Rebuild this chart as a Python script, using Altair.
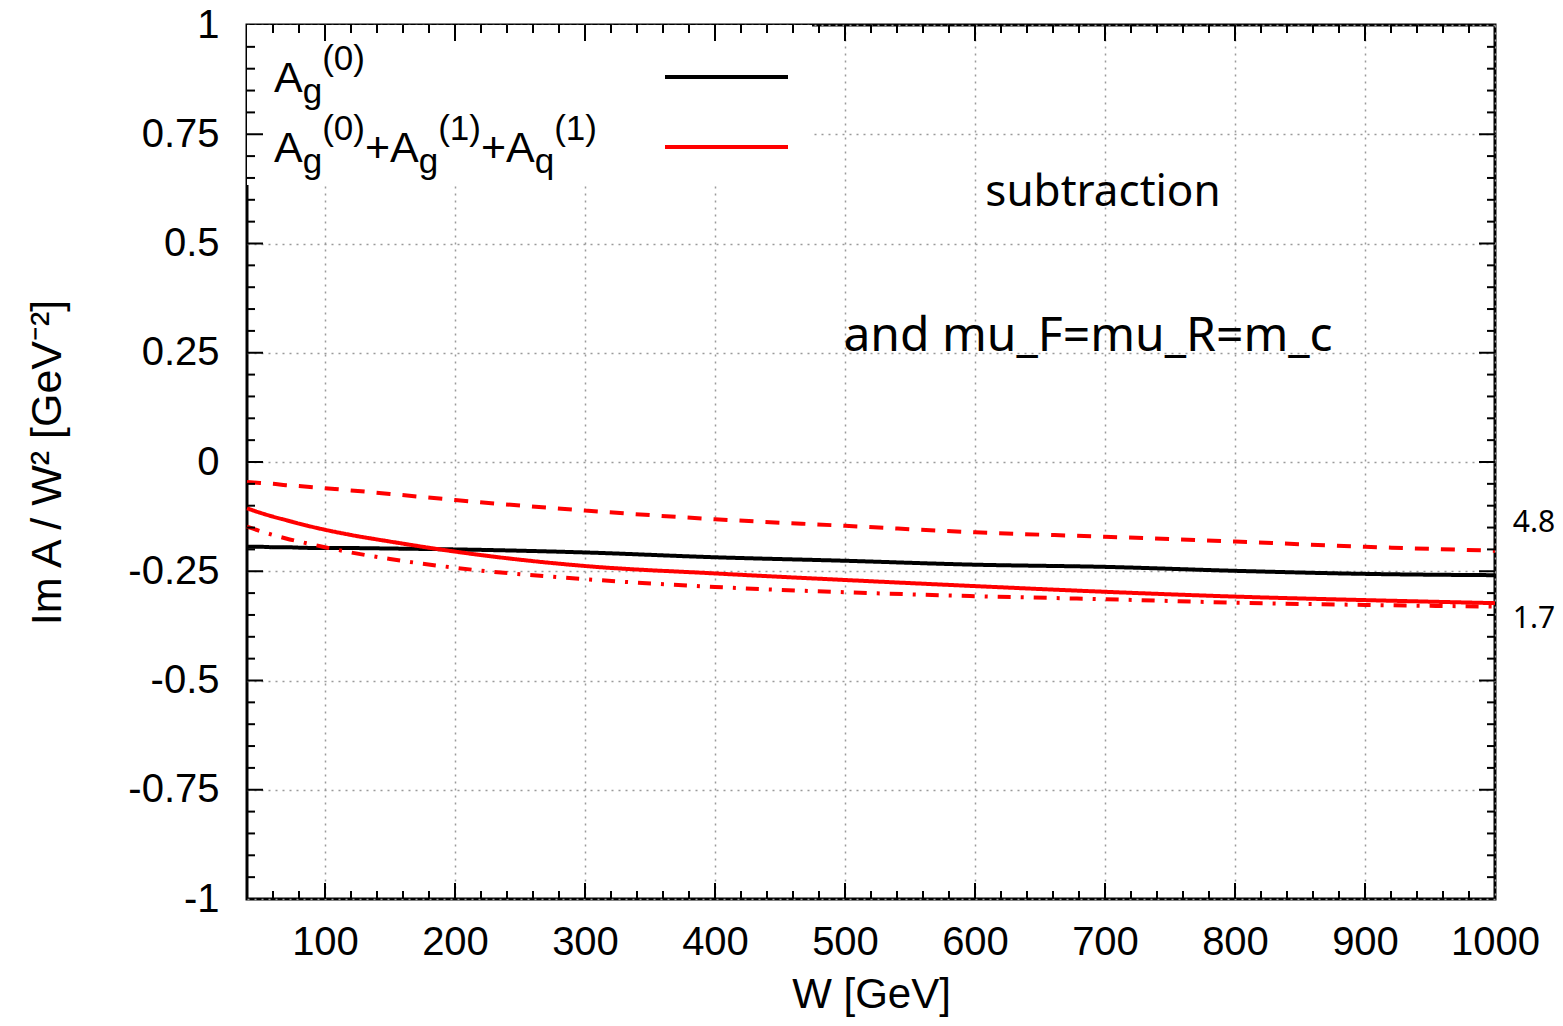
import altair as alt
import pandas as pd

# ---- data ----
W = [40, 50, 60, 70, 80, 100, 120, 150, 200, 300, 400, 500, 600, 700, 800, 900, 1000]
born = [-0.194, -0.194, -0.195, -0.195, -0.196, -0.197, -0.197, -0.198, -0.200, -0.207, -0.218, -0.226, -0.235, -0.240, -0.249, -0.256, -0.259]
nlo = [-0.106, -0.116, -0.125, -0.133, -0.141, -0.155, -0.167, -0.182, -0.205, -0.238, -0.255, -0.270, -0.284, -0.297, -0.308, -0.316, -0.323]
nlo_48 = [-0.046, -0.048, -0.050, -0.053, -0.055, -0.060, -0.065, -0.073, -0.087, -0.111, -0.131, -0.146, -0.161, -0.171, -0.182, -0.194, -0.203]
nlo_17 = [-0.148, -0.158, -0.167, -0.175, -0.182, -0.195, -0.207, -0.222, -0.242, -0.268, -0.286, -0.298, -0.307, -0.314, -0.322, -0.327, -0.331]

series_names = ["born", "nlo", "nlo_48", "nlo_17"]
series_vals = [born, nlo, nlo_48, nlo_17]
series_colors = ["#000000", "#ff0000", "#ff0000", "#ff0000"]
series_dash = [[1, 0], [1, 0], [14, 12], [13, 10, 3, 10]]

x_ticks = [100, 200, 300, 400, 500, 600, 700, 800, 900, 1000]
y_ticks = [-1, -0.75, -0.5, -0.25, 0, 0.25, 0.5, 0.75, 1]
x_minor = [v for v in range(60, 1000, 20) if v % 100 != 0]
y_minor = [round(-1 + 0.05 * i, 2) for i in range(1, 40) if i % 5 != 0]

annotations = ["subtraction", "and mu_F=mu_R=m_c", "4.8", "1.7"]

# ---- layout ----
PW, PH = 1248, 874
FONT = "Liberation Sans"

rows = []
for name, vals in zip(series_names, series_vals):
    for w, v in zip(W, vals):
        rows.append({"W": w, "v": v, "s": name})
df = pd.DataFrame(rows)

xscale = alt.Scale(domain=[40, 1000], nice=False, zero=False)
yscale = alt.Scale(domain=[-1, 1], nice=False, zero=False)

grid_kw = dict(grid=True, gridColor="#9a9a9a", gridDash=[2, 5], gridWidth=1.5,
               ticks=False, domain=False)

xaxis = alt.Axis(values=x_ticks, title="W [GeV]", labelFont=FONT, labelFontSize=40,
                 labelColor="black", labelPadding=23, labelFlush=False, labelOverlap=False,
                 labelExpr="datum.value + ''",
                 titleFont=FONT, titleFontSize=42, titleFontWeight="normal", titleColor="black",
                 titleX=PW / 2, titleY=95, titleBaseline="middle", titleAlign="center",
                 **grid_kw)
yaxis = alt.Axis(values=y_ticks, title="Im A / W² [GeV⁻²]", labelFont=FONT, labelFontSize=40,
                 labelColor="black", labelPadding=28, labelFlush=False, labelOverlap=False,
                 labelExpr="datum.value + ''",
                 titleFont=FONT, titleFontSize=43, titleFontWeight="normal", titleColor="black",
                 titleX=-200, titleY=437, titleAngle=-90, titleBaseline="middle", titleAlign="center",
                 **grid_kw)

one = pd.DataFrame({"k": [0]})

# white legend box hiding the grid
legend_box = alt.Chart(one).mark_rect(color="white").encode(
    x=alt.value(0), x2=alt.value(565), y=alt.value(0), y2=alt.value(160))

lines = alt.Chart(df).mark_line(strokeWidth=4, interpolate="monotone").encode(
    x=alt.X("W:Q", scale=xscale, axis=xaxis),
    y=alt.Y("v:Q", scale=yscale, axis=yaxis),
    color=alt.Color("s:N", scale=alt.Scale(domain=series_names, range=series_colors), legend=None),
    strokeDash=alt.StrokeDash("s:N", scale=alt.Scale(domain=series_names, range=series_dash), legend=None),
    detail="s:N",
)

# inward ticks on all four sides
def xtick_layer(vals, length):
    d = pd.DataFrame({"W": vals})
    b = alt.Chart(d).mark_rule(color="black", strokeWidth=2).encode(
        x=alt.X("W:Q", scale=xscale), y=alt.value(PH), y2=alt.value(PH - length))
    t = alt.Chart(d).mark_rule(color="black", strokeWidth=2).encode(
        x=alt.X("W:Q", scale=xscale), y=alt.value(0), y2=alt.value(length))
    return [b, t]

def ytick_layer(vals, length):
    d = pd.DataFrame({"v": vals})
    l = alt.Chart(d).mark_rule(color="black", strokeWidth=2).encode(
        y=alt.Y("v:Q", scale=yscale), x=alt.value(0), x2=alt.value(length))
    r = alt.Chart(d).mark_rule(color="black", strokeWidth=2).encode(
        y=alt.Y("v:Q", scale=yscale), x=alt.value(PW), x2=alt.value(PW - length))
    return [l, r]

tick_layers = (xtick_layer(x_ticks[:-1], 16) + xtick_layer(x_minor, 8)
               + ytick_layer(y_ticks[1:-1], 16) + ytick_layer(y_minor, 8))

# legend samples
leg_lines = [
    alt.Chart(one).mark_rule(color=c, strokeWidth=4).encode(
        x=alt.value(418), x2=alt.value(541), y=alt.value(yy))
    for c, yy in [("#000000", 52), ("#ff0000", 122)]
]

# legend labels with sub/superscripts, composed from pieces
WID = {"A": 0.667, "g": 0.556, "q": 0.556, "(": 0.333, ")": 0.333, "0": 0.556, "1": 0.556, "+": 0.584}
BIG, SMALL = 43, 35

def piece_width(t, fs):
    return sum(WID[ch] for ch in t) * fs

legend_pieces = [
    [("A", "n"), ("g", "sub"), ("(0)", "sup")],
    [("A", "n"), ("g", "sub"), ("(0)", "sup"), ("+A", "n"), ("g", "sub"), ("(1)", "sup"),
     ("+A", "n"), ("q", "sub"), ("(1)", "sup")],
]
legend_base = [67, 137]
leg_text = []
for pieces, base in zip(legend_pieces, legend_base):
    x = 27
    for t, kind in pieces:
        fs = BIG if kind == "n" else SMALL
        yy = base + (11 if kind == "sub" else (-22 if kind == "sup" else 0))
        leg_text.append(alt.Chart(one).mark_text(
            text=t, font=FONT, fontSize=fs, align="left", baseline="alphabetic", color="black"
        ).encode(x=alt.value(x), y=alt.value(yy)))
        x += piece_width(t, fs)

# annotations
ann_pos = [(856, 168, 44), (841, 312, 48), (1287, 498, 30), (1287, 594, 30)]
ann_layers = [
    alt.Chart(one).mark_text(text=t, font="Noto Sans", fontSize=fs, align="center",
                             baseline="middle", color="black").encode(x=alt.value(px), y=alt.value(py))
    for t, (px, py, fs) in zip(annotations, ann_pos)
]

chart = alt.layer(legend_box, lines, *tick_layers, *leg_lines, *leg_text, *ann_layers).properties(
    width=PW, height=PH,
    padding={"left": 239, "top": 17, "right": 60, "bottom": 118},
    autosize="none",
    background="white",
).configure_view(stroke="black", strokeWidth=3)

chart.save("out.html", embed_options={"renderer": "svg", "actions": False})
